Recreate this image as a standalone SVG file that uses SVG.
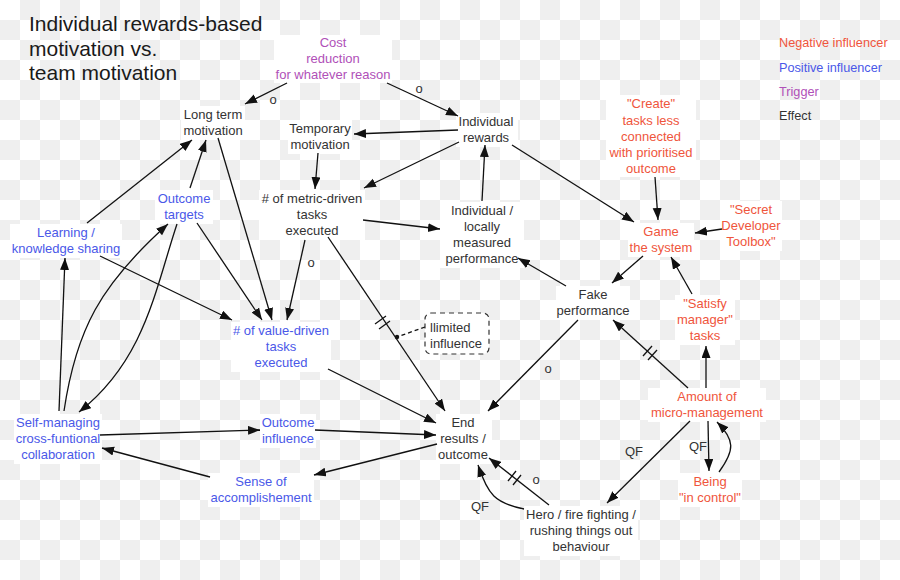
<svg xmlns="http://www.w3.org/2000/svg" width="900" height="580" viewBox="0 0 900 580">
<defs>
<pattern id="chk" x="0" y="0" width="40" height="40" patternUnits="userSpaceOnUse">
<rect width="40" height="40" fill="#ffffff"/>
<rect x="20" y="0" width="20" height="20" fill="#efefef"/>
<rect x="0" y="20" width="20" height="20" fill="#efefef"/>
</pattern>
<marker id="ah" markerUnits="userSpaceOnUse" markerWidth="13" markerHeight="10" refX="12" refY="4.5" orient="auto">
<path d="M0,0 L12,4.5 L0,9 z" fill="#111"/>
</marker>
</defs>
<style>
.t{font-family:"Liberation Sans",Arial,sans-serif;font-size:13px;text-anchor:middle}
.ttl{font-family:"Liberation Sans",Arial,sans-serif;font-size:21px;fill:#1a1a1a}
.lg{font-family:"Liberation Sans",Arial,sans-serif;font-size:12.7px}
.k{fill:#333}.r{fill:#ef553c}.b{fill:#4a58e8}.p{fill:#b050b8}
.bg{fill:#fff}
#connectors line,#connectors path{stroke:#111;stroke-width:1.3;fill:none}
.a{marker-end:url(#ah)}
.lbl{font-family:"Liberation Sans",Arial,sans-serif;font-size:13px;fill:#333;text-anchor:middle}
</style>
<rect width="900" height="580" fill="url(#chk)"/>

<g id="title">
<text class="ttl" x="29" y="31">Individual rewards-based</text>
<text class="ttl" x="29" y="55.5">motivation vs.</text>
<text class="ttl" x="29" y="80">team motivation</text>
</g>

<g id="legend">
<text class="lg r" x="779" y="47">Negative influencer</text>
<text class="lg b" x="779" y="72">Positive influencer</text>
<text class="lg p" x="779" y="96">Trigger</text>
<text class="lg k" x="779" y="120">Effect</text>
</g>

<g id="cost-reduction">
<rect class="bg" x="274" y="35" width="118" height="48"/>
<text class="t p" x="333"><tspan x="333" y="47">Cost</tspan><tspan x="333" y="63">reduction</tspan><tspan x="333" y="79">for whatever reason</tspan></text>
</g>
<g id="long-term-motivation">
<rect class="bg" x="181" y="106" width="64" height="34"/>
<text class="t k"><tspan x="213" y="119">Long term</tspan><tspan x="213" y="135">motivation</tspan></text>
</g>
<g id="temporary-motivation">
<rect class="bg" x="288" y="120" width="64" height="34"/>
<text class="t k"><tspan x="320" y="133">Temporary</tspan><tspan x="320" y="149">motivation</tspan></text>
</g>
<g id="individual-rewards">
<rect class="bg" x="456" y="113" width="62" height="34"/>
<text class="t k"><tspan x="486" y="126">Individual</tspan><tspan x="486" y="142">rewards</tspan></text>
</g>
<g id="metric-driven">
<rect class="bg" x="259" y="190" width="106" height="50"/>
<text class="t k"><tspan x="312" y="203"># of metric-driven</tspan><tspan x="312" y="219">tasks</tspan><tspan x="312" y="235">executed</tspan></text>
</g>
<g id="outcome-targets">
<rect class="bg" x="155" y="190" width="58" height="34"/>
<text class="t b"><tspan x="184" y="203">Outcome</tspan><tspan x="184" y="219">targets</tspan></text>
</g>
<g id="learning">
<rect class="bg" x="10" y="224" width="112" height="34"/>
<text class="t b"><tspan x="66" y="237">Learning /</tspan><tspan x="66" y="253">knowledge sharing</tspan></text>
</g>
<g id="individual-measured">
<rect class="bg" x="440" y="202" width="84" height="66"/>
<text class="t k"><tspan x="482" y="215">Individual /</tspan><tspan x="482" y="231">locally</tspan><tspan x="482" y="247">measured</tspan><tspan x="482" y="263">performance</tspan></text>
</g>
<g id="create-tasks">
<rect class="bg" x="606" y="95" width="90" height="82"/>
<text class="t r"><tspan x="651" y="108">"Create"</tspan><tspan x="651" y="125">tasks less</tspan><tspan x="651" y="141">connected</tspan><tspan x="651" y="157">with prioritised</tspan><tspan x="651" y="173">outcome</tspan></text>
</g>
<g id="game-the-system">
<rect class="bg" x="628" y="223" width="66" height="34"/>
<text class="t r"><tspan x="661" y="236">Game</tspan><tspan x="661" y="252">the system</tspan></text>
</g>
<g id="secret-toolbox">
<rect class="bg" x="720" y="201" width="62" height="50"/>
<text class="t r"><tspan x="751" y="214">"Secret</tspan><tspan x="751" y="230">Developer</tspan><tspan x="751" y="246">Toolbox"</tspan></text>
</g>
<g id="fake-performance">
<rect class="bg" x="556" y="286" width="74" height="34"/>
<text class="t k"><tspan x="593" y="299">Fake</tspan><tspan x="593" y="315">performance</tspan></text>
</g>
<g id="satisfy-manager">
<rect class="bg" x="675" y="295" width="60" height="50"/>
<text class="t r"><tspan x="705" y="308">"Satisfy</tspan><tspan x="705" y="324">manager"</tspan><tspan x="705" y="340">tasks</tspan></text>
</g>
<g id="value-driven">
<rect class="bg" x="231" y="322" width="100" height="50"/>
<text class="t b"><tspan x="281" y="335"># of value-driven</tspan><tspan x="281" y="351">tasks</tspan><tspan x="281" y="367">executed</tspan></text>
</g>
<g id="limited-influence">
<rect x="425" y="313" width="64" height="41" rx="6" fill="#fff" stroke="#333" stroke-width="1.2" stroke-dasharray="5,4"/>
<text class="t k" style="text-anchor:start"><tspan x="430" y="332">llimited</tspan><tspan x="430" y="348">influence</tspan></text>
</g>
<g id="end-results">
<rect class="bg" x="436" y="414" width="56" height="50"/>
<text class="t k"><tspan x="463" y="427">End</tspan><tspan x="463" y="443">results /</tspan><tspan x="463" y="459">outcome</tspan></text>
</g>
<g id="outcome-influence">
<rect class="bg" x="260" y="414" width="56" height="34"/>
<text class="t b"><tspan x="288" y="427">Outcome</tspan><tspan x="288" y="443">influence</tspan></text>
</g>
<g id="self-managing">
<rect class="bg" x="14" y="414" width="88" height="50"/>
<text class="t b"><tspan x="58" y="427">Self-managing</tspan><tspan x="58" y="443">cross-funtional</tspan><tspan x="58" y="459">collaboration</tspan></text>
</g>
<g id="sense-of-accomplishment">
<rect class="bg" x="208" y="473" width="106" height="34"/>
<text class="t b"><tspan x="261" y="486">Sense of</tspan><tspan x="261" y="502">accomplishement</tspan></text>
</g>
<g id="micro-management">
<rect class="bg" x="648" y="388" width="118" height="34"/>
<text class="t r"><tspan x="707" y="401">Amount of</tspan><tspan x="707" y="417">micro-management</tspan></text>
</g>
<g id="being-in-control">
<rect class="bg" x="678" y="473" width="64" height="34"/>
<text class="t r"><tspan x="710" y="486">Being</tspan><tspan x="710" y="502">"in control"</tspan></text>
</g>
<g id="hero">
<rect class="bg" x="524" y="506" width="114" height="50"/>
<text class="t k"><tspan x="581" y="519">Hero / fire fighting /</tspan><tspan x="581" y="535">rushing things out</tspan><tspan x="581" y="551">behaviour</tspan></text>
</g>

<g id="connectors">
<line class="a" x1="287" y1="83" x2="245" y2="104"/>
<line class="a" x1="387" y1="83" x2="458" y2="116"/>
<line class="a" x1="458" y1="130" x2="354" y2="134"/>
<line class="a" x1="459" y1="142" x2="364" y2="188"/>
<line class="a" x1="318" y1="153" x2="315" y2="189"/>
<line class="a" x1="363" y1="220" x2="440" y2="229"/>
<line class="a" x1="482" y1="201" x2="485" y2="145"/>
<line class="a" x1="512" y1="145" x2="634" y2="222"/>
<line class="a" x1="655" y1="177" x2="658" y2="220"/>
<line class="a" x1="722" y1="229" x2="695" y2="233"/>
<line class="a" x1="643" y1="256" x2="612" y2="283"/>
<line class="a" x1="566" y1="286" x2="518" y2="258"/>
<line class="a" x1="692" y1="294" x2="671" y2="257"/>
<line class="a" x1="706" y1="388" x2="706" y2="346"/>
<line class="a" x1="688" y1="388" x2="613" y2="320"/>
<line x1="643" y1="356" x2="652" y2="346"/>
<line x1="648" y1="360" x2="657" y2="350"/>
<line class="a" x1="708" y1="421" x2="709" y2="471"/>
<path class="a" d="M719,472 C735,450 735,440 717,422"/>
<line class="a" x1="690" y1="421" x2="607" y2="503"/>
<line class="a" x1="549" y1="505" x2="489" y2="458"/>
<line x1="508" y1="481" x2="516" y2="471"/>
<line x1="513" y1="485" x2="521" y2="475"/>
<path class="a" d="M524,509 C495,503 488,495 478,465"/>
<line class="a" x1="578" y1="320" x2="488" y2="411"/>
<line class="a" x1="328" y1="237" x2="445" y2="411"/>
<line x1="375" y1="324" x2="386" y2="316"/>
<line x1="379" y1="329" x2="390" y2="321"/>
<line class="a" x1="328" y1="369" x2="436" y2="423"/>
<line class="a" x1="315" y1="430" x2="436" y2="435"/>
<line class="a" x1="437" y1="444" x2="314" y2="475"/>
<line class="a" x1="210" y1="477" x2="102" y2="448"/>
<line class="a" x1="100" y1="435" x2="260" y2="430"/>
<line class="a" x1="59" y1="411" x2="65" y2="258"/>
<path class="a" d="M64,411 C76,330 100,285 168,224"/>
<path class="a" d="M177,224 C155,290 145,360 79,412"/>
<line class="a" x1="87" y1="223" x2="192" y2="140"/>
<line class="a" x1="190" y1="188" x2="206" y2="140"/>
<line class="a" x1="218" y1="138" x2="272" y2="320"/>
<line class="a" x1="197" y1="223" x2="262" y2="320"/>
<line class="a" x1="305" y1="240" x2="287" y2="320"/>
<line class="a" x1="100" y1="256" x2="232" y2="320"/>
<line x1="425" y1="327" x2="397" y2="337" style="stroke-dasharray:4,3"/>
<circle cx="397" cy="337" r="2.2" fill="#111"/>
<text class="lbl" x="273" y="104">o</text>
<text class="lbl" x="419" y="93">o</text>
<text class="lbl" x="311" y="267">o</text>
<text class="lbl" x="548" y="373">o</text>
<text class="lbl" x="536" y="484">o</text>
<text class="lbl" x="480" y="511">QF</text>
<text class="lbl" x="634" y="456">QF</text>
<text class="lbl" x="698" y="451">QF</text>
</g>
</svg>
